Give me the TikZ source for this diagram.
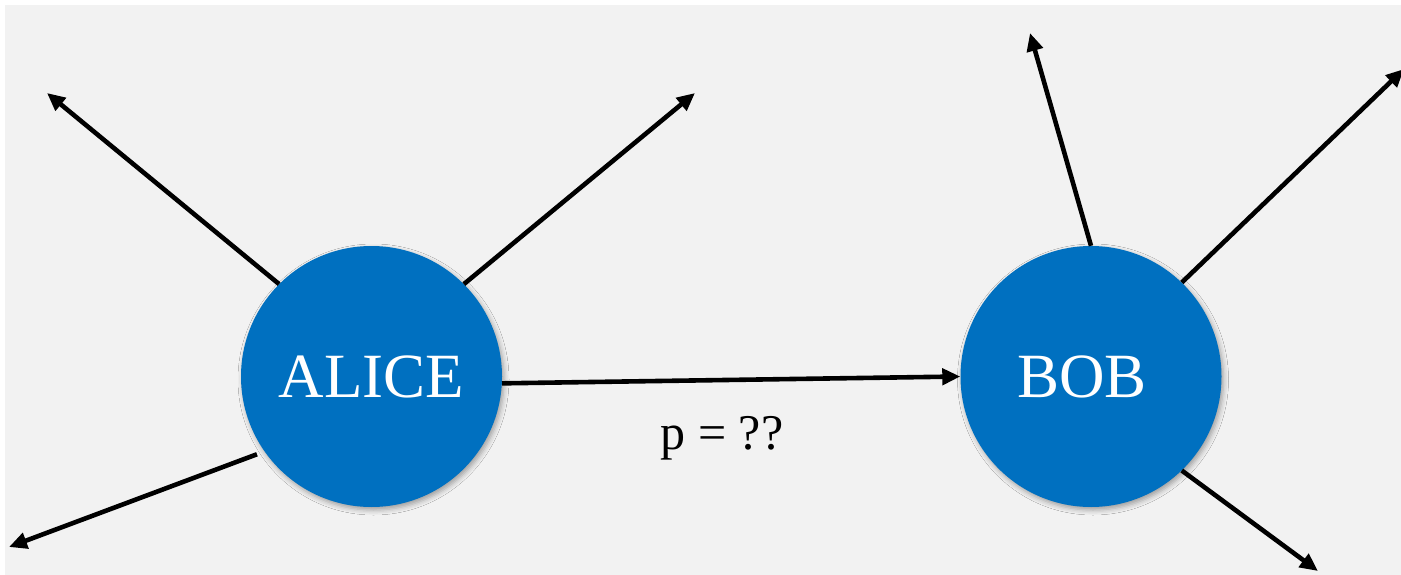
\documentclass[tikz,border=0pt]{standalone}
\usepackage{fontspec}
\setmainfont{Liberation Serif}
\usetikzlibrary{arrows.meta,shadows.blur}
\definecolor{bgcol}{HTML}{F2F2F2}
\definecolor{nodeblue}{HTML}{0070C0}
\begin{document}
\begin{tikzpicture}[x=1pt,y=-1pt,
  person/.style={circle, fill=nodeblue, minimum size=261pt, inner sep=0pt,
    text=white, font=\fontsize{63}{70}\selectfont,
    blur shadow={shadow xshift=2pt, shadow yshift=-3pt, shadow blur radius=5pt, shadow opacity=35}},
  arr/.style={line width=4.6pt, -{Triangle[length=18pt,width=16pt]}},
  lbl/.style={font=\fontsize{50}{56}\selectfont, inner sep=0pt}]
\useasboundingbox (0,0) rectangle (1401,575);
\fill[white] (0,0) rectangle (1401,575);
\fill[bgcol] (5,5) rectangle (1401,575);

\node[person] (alice) at (371.5,376.5) {ALICE};
\node[person] (bob) at (1091,376.5) {BOB\kern18pt};

\coordinate (a1) at (47,93);
\coordinate (a2) at (695,93);
\coordinate (a3) at (9,547);
\coordinate (b1) at (1030,33);
\coordinate (b2) at (1404,69);
\coordinate (b3) at (1318,571);

\draw[arr] (alice.135) -- (a1);
\draw[arr] (alice.45) -- (a2);
\draw[arr, shorten <=8pt] (alice.215) -- (a3);
\draw[arr] (alice.-3) -- (bob.west);
\draw[arr] (bob.north) -- (b1);
\draw[arr] (bob.46) -- (b2);
\draw[arr] (bob.-46) -- (b3);

\node[lbl, anchor=base] (p) at (722,449) {p = ??};
\end{tikzpicture}
\end{document}
